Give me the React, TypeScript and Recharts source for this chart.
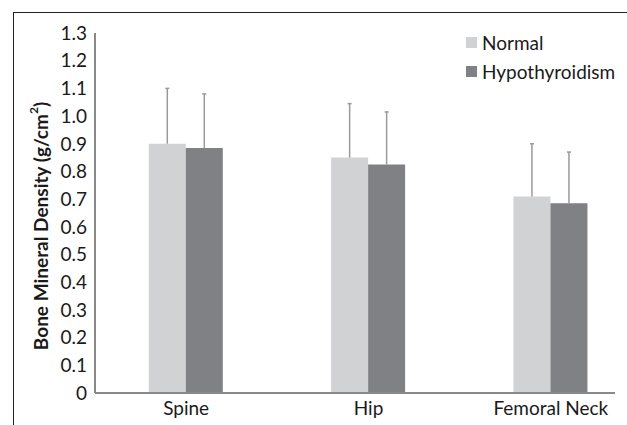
import { Bar, BarChart, XAxis, YAxis } from "recharts";

const sites = ["Spine", "Hip", "Femoral Neck"];
const normalMean = [0.9, 0.85, 0.71];
const normalSd = [0.2, 0.195, 0.19];
const hypoMean = [0.885, 0.825, 0.685];
const hypoSd = [0.195, 0.19, 0.185];
const yTicks = [0, 0.1, 0.2, 0.3, 0.4, 0.5, 0.6, 0.7, 0.8, 0.9, 1.0, 1.1, 1.2, 1.3];

const data = sites.map((site, i) => ({
  site,
  normal: normalMean[i],
  normalSd: normalSd[i],
  hypo: hypoMean[i],
  hypoSd: hypoSd[i],
}));

const FONT = "Lato, 'Noto Sans', sans-serif";
const ERR = "#9a9a9a";

// upper-only error whisker, drawn as a stacked segment on top of the bar
function Whisker({ x, y, width, height }: any) {
  const cx = x + width / 2;
  return (
    <g>
      <line x1={cx} x2={cx} y1={y + height} y2={y} stroke={ERR} strokeWidth={1.5} />
      <line x1={cx - 2} x2={cx + 2} y1={y} y2={y} stroke={ERR} strokeWidth={1.5} />
    </g>
  );
}

function YLabel({ viewBox }: any) {
  const cx = 40;
  const cy = viewBox.y + viewBox.height / 2 + 13;
  return (
    <text
      x={cx}
      y={cy}
      transform={`rotate(-90, ${cx}, ${cy})`}
      textAnchor="middle"
      dominantBaseline="central"
      fontFamily={FONT}
      fontWeight="bold"
      fontSize={19}
      fill="#1a1a1a"
    >
      Bone Mineral Density (g/cm<tspan dy={-7} fontSize={12}>2</tspan>
      <tspan dy={7}>)</tspan>
    </text>
  );
}

const legendItems = [
  { name: "Normal", color: "#d1d2d4" },
  { name: "Hypothyroidism", color: "#808184" },
];

export default function App() {
  return (
    <div style={{ position: "fixed", left: 0, top: 0, width: 627, height: 425, overflow: "hidden", background: "#fff" }}>
      <div
        style={{
          position: "absolute",
          left: 13,
          top: 12,
          width: 700,
          height: 500,
          borderLeft: "1.5px solid #222",
          borderTop: "1.5px solid #222",
        }}
      />
      <div style={{ position: "absolute", left: 0, top: 0 }}>
        <BarChart
          width={627}
          height={440}
          data={data}
          margin={{ top: 33, right: 12, left: 0, bottom: 17 }}
          barCategoryGap="29.5%"
          barGap={0}
        >
          <XAxis
            dataKey="site"
            axisLine={{ stroke: "#898989", strokeWidth: 2 }}
            tickLine={false}
            padding={{ left: 0, right: -27 }}
            height={30}
            interval={0}
            tick={{ fontFamily: FONT, fontSize: 19, fill: "#1a1a1a" }}
            tickMargin={3}
          />
          <YAxis
            width={95}
            domain={[0, 1.3]}
            ticks={yTicks}
            interval={0}
            axisLine={{ stroke: "#898989", strokeWidth: 2 }}
            tickLine={false}
            tickFormatter={(v: number) => (v === 0 ? "0" : v.toFixed(1))}
            tick={{ fontFamily: FONT, fontSize: 19, fill: "#1a1a1a" }}
            label={<YLabel />}
          />
          <Bar dataKey="normal" stackId="n" fill="#d1d2d4" isAnimationActive={false} />
          <Bar dataKey="normalSd" stackId="n" shape={<Whisker />} isAnimationActive={false} />
          <Bar dataKey="hypo" stackId="h" fill="#808184" isAnimationActive={false} />
          <Bar dataKey="hypoSd" stackId="h" shape={<Whisker />} isAnimationActive={false} />
        </BarChart>
      </div>
      <div style={{ position: "absolute", left: 466, top: 28, fontFamily: FONT, fontSize: 19, color: "#1a1a1a" }}>
        {legendItems.map((it) => (
          <div key={it.name} style={{ display: "flex", alignItems: "center", height: 29 }}>
            <span style={{ display: "inline-block", width: 11, height: 11, background: it.color, marginRight: 5 }} />
            {it.name}
          </div>
        ))}
      </div>
    </div>
  );
}
